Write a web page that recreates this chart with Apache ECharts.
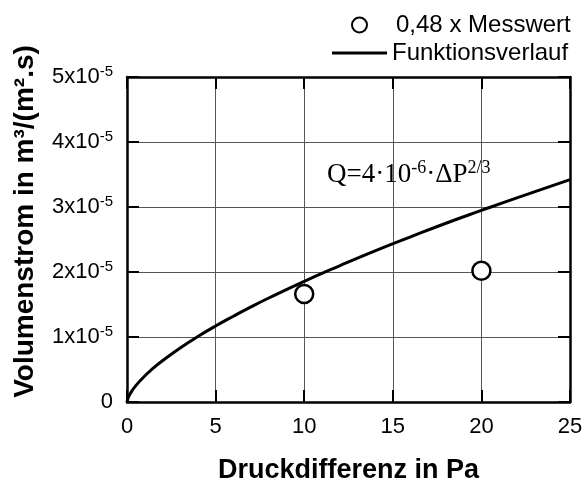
<!DOCTYPE html>
<html>
<head>
<meta charset="utf-8">
<script src="https://cdn.jsdelivr.net/npm/echarts@6/dist/echarts.min.js"></script>
<style>
html, body { margin: 0; padding: 0; background: #fff; }
#chart { width: 584px; height: 482px; }
</style>
</head>
<body>
<div id="chart"></div>
<script>
// Messpunkte (0,48 x Messwert)
const messX = [10, 20];
const messY = [1.66e-5, 2.02e-5];

// Funktionsverlauf
const kurveX = [0, 0.1, 0.25, 0.5, 1, 1.5, 2, 3, 4, 5, 6, 7, 8, 10, 12, 14, 16, 18, 20, 22, 25];
const kurveY = [0, 0.086e-5, 0.159e-5, 0.252e-5, 0.40e-5, 0.524e-5, 0.635e-5, 0.832e-5, 1.008e-5, 1.17e-5,
  1.32e-5, 1.464e-5, 1.60e-5, 1.857e-5, 2.096e-5, 2.325e-5, 2.54e-5, 2.75e-5, 2.947e-5, 3.14e-5, 3.42e-5];

const xTicks = [0, 5, 10, 15, 20, 25];
const yTickStep = 1e-5;

const font = 'Liberation Sans, Arial, sans-serif';
const serif = 'Liberation Serif, Times New Roman, serif';

const chart = echarts.init(document.getElementById('chart'));

// Rahmen + Ticks nach innen auf allen vier Seiten
const tickStyle = () => ({ show: true, inside: true, length: 12, lineStyle: { color: '#000', width: 2 } });
const lineStyle = () => ({ show: true, onZero: false, lineStyle: { color: '#000', width: 2.5 } });

const option = {
  animation: false,
  backgroundColor: '#fff',
  grid: { left: 127, right: 14, top: 77, bottom: 80, outerBoundsMode: 'none', containLabel: false },
  legend: [{
    left: 351,
    top: 13,
    padding: 0,
    itemWidth: 15,
    itemHeight: 15,
    textStyle: { fontFamily: font, fontSize: 24, color: '#000', padding: [0, 0, 0, 24] },
    data: [{ name: '0,48 x Messwert', icon: 'circle' }]
  }, {
    left: 332,
    top: 41,
    padding: 0,
    itemWidth: 55,
    itemHeight: 15,
    textStyle: { fontFamily: font, fontSize: 24, color: '#000' },
    data: [{ name: 'Funktionsverlauf', icon: 'path://M0,0 L55,0 L55,3 L0,3 Z' }]
  }],
  xAxis: [{
    type: 'value',
    min: 0, max: 25, interval: 5,
    axisLine: lineStyle(),
    axisTick: tickStyle(),
    splitLine: { show: true, lineStyle: { color: '#555', width: 1 } },
    axisLabel: {
      margin: 14,
      fontFamily: font, fontSize: 22, color: '#000',
      formatter: v => xTicks.includes(v) ? String(v) : ''
    },
    name: 'Druckdifferenz in Pa',
    nameLocation: 'middle',
    nameGap: 55,
    nameTextStyle: { fontFamily: font, fontSize: 27, fontWeight: 'bold', color: '#000' }
  }, {
    type: 'value', position: 'top',
    min: 0, max: 25, interval: 5,
    axisLine: lineStyle(), axisTick: tickStyle(),
    axisLabel: { show: false }, splitLine: { show: false }
  }],
  yAxis: [{
    type: 'value',
    min: 0, max: 5e-5, interval: yTickStep,
    axisLine: lineStyle(),
    axisTick: tickStyle(),
    splitLine: { show: true, lineStyle: { color: '#555', width: 1 } },
    axisLabel: {
      margin: 14,
      fontFamily: font, color: '#000',
      formatter: v => {
        const n = Math.round(v / yTickStep);
        return n === 0 ? '{a|0}' : '{a|' + n + 'x10}{s|-5}';
      },
      rich: {
        a: { fontFamily: font, fontSize: 22, lineHeight: 26, color: '#000' },
        s: { fontFamily: font, fontSize: 15, lineHeight: 14, verticalAlign: 'top', color: '#000' }
      }
    },
    name: 'Volumenstrom in m³/(m².s)',
    nameLocation: 'middle',
    nameRotate: 90,
    nameGap: 88,
    nameTextStyle: { fontFamily: font, fontSize: 28, fontWeight: 'bold', color: '#000', padding: [0, 0, 0, 36] }
  }, {
    type: 'value', position: 'right',
    min: 0, max: 5e-5, interval: yTickStep,
    axisLine: lineStyle(), axisTick: tickStyle(),
    axisLabel: { show: false }, splitLine: { show: false }
  }],
  graphic: [{
    type: 'text',
    left: 327,
    top: 159,
    style: {
      text: '{a|Q=4·10}{s|-6}{a|·ΔP}{s|2/3}',
      rich: {
        a: { fontFamily: serif, fontSize: 27, lineHeight: 32, fill: '#000' },
        s: { fontFamily: serif, fontSize: 18, lineHeight: 16, verticalAlign: 'top', fill: '#000' }
      }
    }
  }],
  series: [{
    name: 'Funktionsverlauf',
    type: 'line',
    data: kurveX.map((x, i) => [x, kurveY[i]]),
    symbol: 'none',
    smooth: true,
    lineStyle: { color: '#000', width: 3 },
    itemStyle: { color: '#000' },
    z: 3
  }, {
    name: '0,48 x Messwert',
    type: 'scatter',
    data: messX.map((x, i) => [x, messY[i]]),
    symbol: 'circle',
    symbolSize: 18,
    itemStyle: { color: '#fff', borderColor: '#000', borderWidth: 2.5, opacity: 1 },
    z: 4
  }]
};

chart.setOption(option);
</script>
</body>
</html>
